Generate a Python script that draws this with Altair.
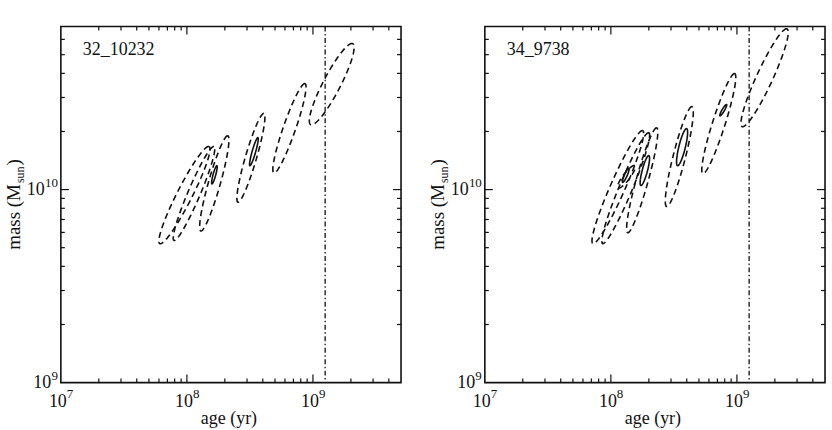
import numpy as np
import pandas as pd
import altair as alt

# ---- axis ranges and plot size ----
AGE_MIN, AGE_MAX = 1e7, 5e9
MASS_MIN, MASS_MAX = 1e9, 7e10
W, H = 341, 357
FONT = "Liberation Serif"
INK = "#111111"

# ---- tick positions ----
age_major = [1e8, 1e9]
age_minor = [2e7, 3e7, 4e7, 5e7, 6e7, 7e7, 8e7, 9e7,
             2e8, 3e8, 4e8, 5e8, 6e8, 7e8, 8e8, 9e8,
             2e9, 3e9, 4e9]
mass_major = [1e10]
mass_minor = [2e9, 3e9, 4e9, 5e9, 6e9, 7e9, 8e9, 9e9,
              2e10, 3e10, 4e10, 5e10, 6e10]
age_label_vals = [1e7, 1e8, 1e9]
age_label_exp = ["7", "8", "9"]
mass_label_vals = [1e9, 1e10]
mass_label_exp = ["9", "10"]

# age marked by the vertical dash-dot line
divide_age = 1.25e9

# ---- confidence ellipses: lower tip, upper tip, minor/major ratio, line style ----
left_name = "32_10232"
left_age_lo = [6.1e7, 7.9e7, 1.29e8, 1.58e8, 2.54e8, 3.16e8, 4.9e8, 9.6e8]
left_mass_lo = [5.25e9, 5.45e9, 6.1e9, 1.07e10, 8.6e9, 1.33e10, 1.22e10, 2.17e10]
left_age_hi = [1.50e8, 1.64e8, 2.11e8, 1.73e8, 4.08e8, 3.66e8, 8.65e8, 2.07e9]
left_mass_hi = [1.67e10, 1.67e10, 1.9e10, 1.33e10, 2.48e10, 1.86e10, 3.54e10, 5.7e10]
left_ratio = [0.14, 0.12, 0.12, 0.14, 0.12, 0.12, 0.13, 0.19]
left_style = ["dashed", "dashed", "dashed", "solid", "dashed", "solid", "dashed", "dashed"]

right_name = "34_9738"
right_age_lo = [7.2e7, 8.6e7, 1.36e8, 1.14e8, 1.24e8, 1.73e8, 2.77e8, 3.38e8, 5.37e8, 7.33e8, 1.1e9]
right_mass_lo = [5.25e9, 5.25e9, 5.98e9, 1.02e10, 1.09e10, 1.05e10, 8.17e9, 1.33e10, 1.21e10, 2.41e10, 2.12e10]
right_age_hi = [1.79e8, 2.0e8, 2.31e8, 1.55e8, 1.39e8, 2.0e8, 4.4e8, 3.99e8, 9.6e8, 8.28e8, 2.5e9]
right_mass_hi = [2.02e10, 1.97e10, 2.09e10, 1.33e10, 1.29e10, 1.5e10, 2.69e10, 2.07e10, 3.99e10, 2.76e10, 6.8e10]
right_ratio = [0.12, 0.11, 0.11, 0.25, 0.18, 0.17, 0.12, 0.17, 0.12, 0.18, 0.15]
right_style = ["dashed", "dashed", "dashed", "dashed", "solid", "solid",
               "dashed", "solid", "dashed", "solid", "dashed"]


def ellipse_table(age_lo, mass_lo, age_hi, mass_hi, ratio, style, n=140):
    """Outline each ellipse in log-log space, scaled like the plot so the
    minor axis is perpendicular on screen."""
    sx = W / (np.log10(AGE_MAX) - np.log10(AGE_MIN))
    sy = H / (np.log10(MASS_MAX) - np.log10(MASS_MIN))
    t = np.linspace(0, 2 * np.pi, n)
    frames = []
    for k in range(len(age_lo)):
        p1 = np.array([np.log10(age_lo[k]) * sx, np.log10(mass_lo[k]) * sy])
        p2 = np.array([np.log10(age_hi[k]) * sx, np.log10(mass_hi[k]) * sy])
        c = (p1 + p2) / 2
        d = (p2 - p1) / 2
        nv = np.array([-d[1], d[0]]) * ratio[k]
        pts = c + np.cos(t)[:, None] * d + np.sin(t)[:, None] * nv
        frames.append(pd.DataFrame({
            "age": 10 ** (pts[:, 0] / sx),
            "mass": 10 ** (pts[:, 1] / sy),
            "i": np.arange(n),
            "id": k,
            "style": style[k],
        }))
    return pd.concat(frames, ignore_index=True)


def panel(name, ell):
    xs = alt.Scale(type="log", domain=[AGE_MIN, AGE_MAX], nice=False)
    ys = alt.Scale(type="log", domain=[MASS_MIN, MASS_MAX], nice=False)

    def X():
        return alt.X("age:Q", scale=xs, axis=None)

    def Y():
        return alt.Y("mass:Q", scale=ys, axis=None)

    one = pd.DataFrame({"a": [0]})
    layers = []

    # ellipses
    layers.append(
        alt.Chart(ell).mark_line(strokeWidth=1.6, color=INK, clip=True).encode(
            x=X(), y=Y(), detail="id:N", order="i:Q",
            strokeDash=alt.StrokeDash(
                "style:N",
                scale=alt.Scale(domain=["dashed", "solid"], range=[[6, 4], [1, 0]]),
                legend=None),
        )
    )

    # dash-dot vertical line
    layers.append(
        alt.Chart(pd.DataFrame({"age": [divide_age]}))
        .mark_rule(color=INK, strokeWidth=1.3, strokeDash=[5, 2.5, 1.5, 2.5])
        .encode(x=X())
    )

    # inward ticks on all four sides
    for vals, ln in ((age_major, 8), (age_minor, 4)):
        df = pd.DataFrame({"age": vals})
        layers.append(alt.Chart(df).mark_rule(color=INK, strokeWidth=1.2).encode(
            x=X(), y=alt.value(H), y2=alt.value(H - ln)))
        layers.append(alt.Chart(df).mark_rule(color=INK, strokeWidth=1.2).encode(
            x=X(), y=alt.value(0), y2=alt.value(ln)))
    for vals, ln in ((mass_major, 8), (mass_minor, 4)):
        df = pd.DataFrame({"mass": vals})
        layers.append(alt.Chart(df).mark_rule(color=INK, strokeWidth=1.2).encode(
            y=Y(), x=alt.value(0), x2=alt.value(ln)))
        layers.append(alt.Chart(df).mark_rule(color=INK, strokeWidth=1.2).encode(
            y=Y(), x=alt.value(W), x2=alt.value(W - ln)))

    # x tick labels: 10 with superscript exponent
    xl = pd.DataFrame({"age": age_label_vals, "e": age_label_exp, "b": ["10"] * 3})
    layers.append(alt.Chart(xl).mark_text(font=FONT, fontSize=18, color=INK,
                                          align="center", baseline="middle", dx=-3).encode(
        x=X(), y=alt.value(H + 19), text="b:N"))
    layers.append(alt.Chart(xl).mark_text(font=FONT, fontSize=13, color=INK,
                                          align="left", baseline="middle", dx=6).encode(
        x=X(), y=alt.value(H + 11), text="e:N"))

    # y tick labels
    for v, e in zip(mass_label_vals, mass_label_exp):
        df = pd.DataFrame({"mass": [v], "e": [e], "b": ["10"]})
        layers.append(alt.Chart(df).mark_text(font=FONT, fontSize=13, color=INK,
                                              align="right", baseline="middle", dy=-7).encode(
            y=Y(), x=alt.value(-3), text="e:N"))
        layers.append(alt.Chart(df).mark_text(font=FONT, fontSize=18, color=INK,
                                              align="right", baseline="middle", dy=0).encode(
            y=Y(), x=alt.value(-3 - 6.6 * len(e)), text="b:N"))

    # axis titles
    layers.append(alt.Chart(one).mark_text(font=FONT, fontSize=18, color=INK,
                                           align="center", baseline="middle").encode(
        x=alt.value(W / 2 - 2), y=alt.value(H + 37), text=alt.value("age (yr)")))
    ytitle_x, ytitle_y = -41, 158
    layers.append(alt.Chart(one).mark_text(font=FONT, fontSize=19, color=INK, angle=270,
                                           align="right", baseline="alphabetic").encode(
        x=alt.value(ytitle_x), y=alt.value(ytitle_y), text=alt.value("mass (M")))
    layers.append(alt.Chart(one).mark_text(font=FONT, fontSize=12, color=INK, angle=270,
                                           align="left", baseline="alphabetic", dx=1, dy=4).encode(
        x=alt.value(ytitle_x), y=alt.value(ytitle_y), text=alt.value("sun")))
    layers.append(alt.Chart(one).mark_text(font=FONT, fontSize=19, color=INK, angle=270,
                                           align="left", baseline="alphabetic", dx=18.5).encode(
        x=alt.value(ytitle_x), y=alt.value(ytitle_y), text=alt.value(")")))

    # object name
    layers.append(alt.Chart(one).mark_text(font=FONT, fontSize=18, color=INK,
                                           align="left", baseline="middle").encode(
        x=alt.value(22), y=alt.value(24), text=alt.value(name)))

    return layers


left_ell = ellipse_table(left_age_lo, left_mass_lo, left_age_hi, left_mass_hi, left_ratio, left_style)
right_ell = ellipse_table(right_age_lo, right_mass_lo, right_age_hi, right_mass_hi, right_ratio, right_style)

one = pd.DataFrame({"a": [0]})
# white guides that fix the outer margins of the figure
left_pin = alt.Chart(one).mark_rule(stroke="white", strokeWidth=1).encode(
    x=alt.value(-59.5), x2=alt.value(-59.5), y=alt.value(-24.5), y2=alt.value(H + 47.5))
right_pin = alt.Chart(one).mark_rule(stroke="white", strokeWidth=1).encode(
    x=alt.value(W + 5.5), x2=alt.value(W + 5.5), y=alt.value(-24.5), y2=alt.value(H + 47.5))

left = alt.layer(left_pin, *panel(left_name, left_ell)).properties(width=W, height=H)
right = alt.layer(right_pin, *panel(right_name, right_ell)).properties(width=W, height=H)

chart = (
    alt.hconcat(left, right, spacing=84, bounds="flush")
    .properties(padding=0, background="white")
    .configure_view(stroke=INK, strokeWidth=1.6)
)

chart.save("out.html", embed_options={"renderer": "svg", "actions": False})
